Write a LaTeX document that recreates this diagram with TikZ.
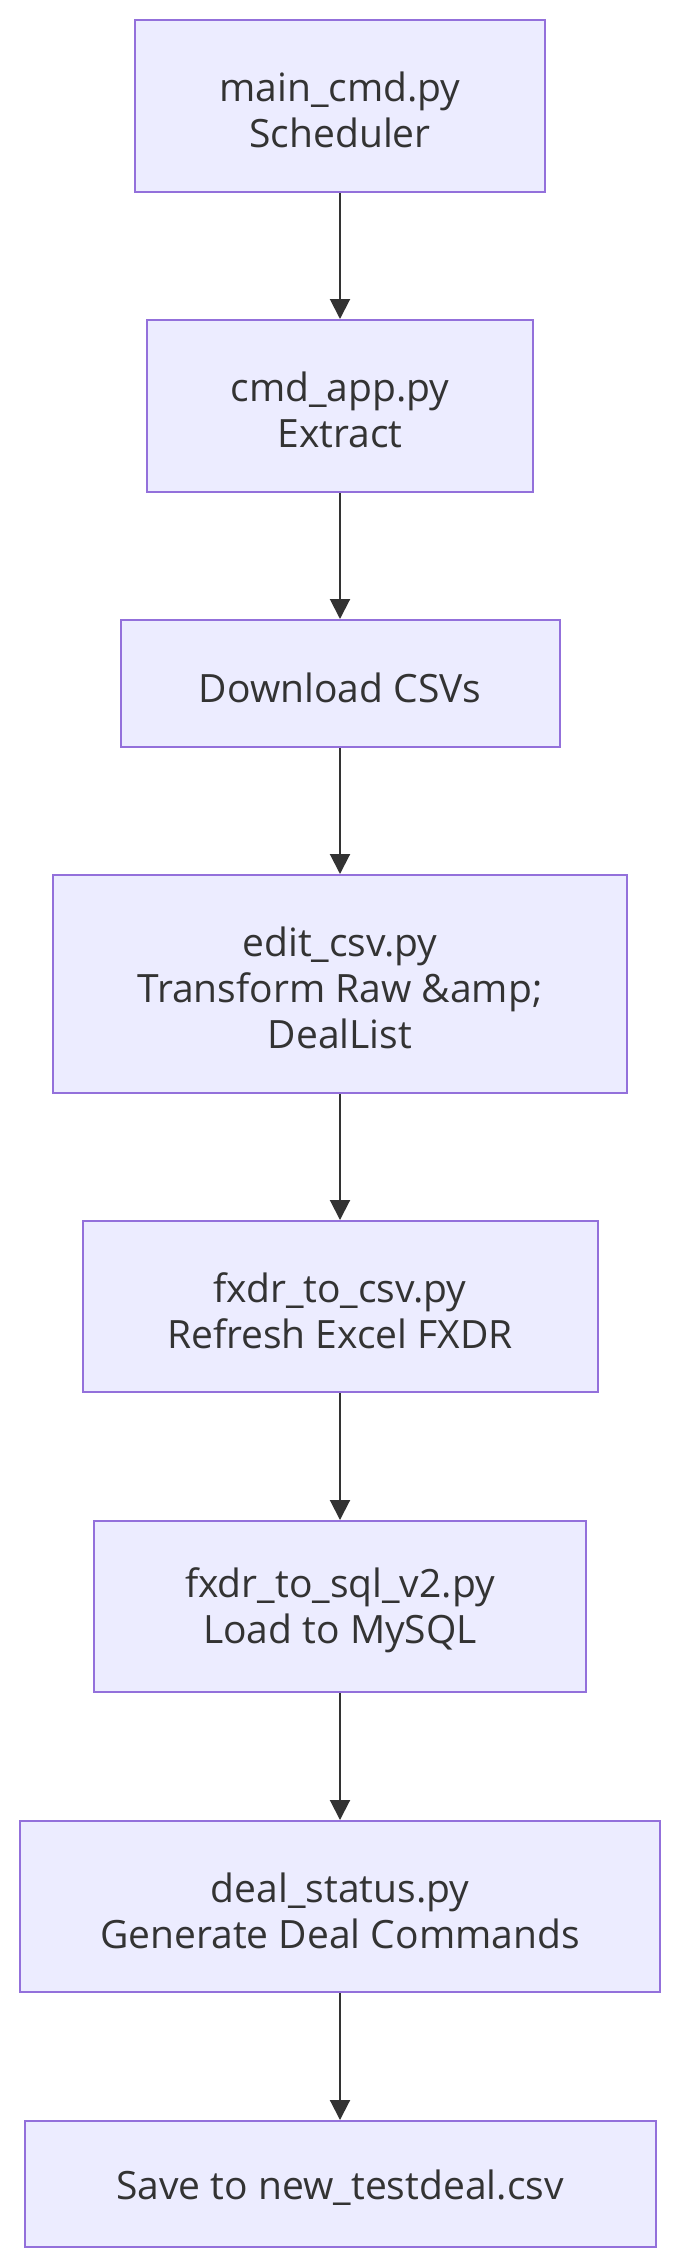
\documentclass[tikz,border=0pt]{standalone}
\usepackage{fontspec}
\setmainfont{Open Sans}
\usetikzlibrary{arrows.meta}
\definecolor{nodefill}{HTML}{ECECFF}
\definecolor{nodeline}{HTML}{9370DB}
\definecolor{ink}{HTML}{333333}
\tikzset{
  flowbox/.style={draw=nodeline, fill=nodefill, line width=2pt, inner sep=0pt},
  flowtext/.style={inner sep=0pt, text=ink, align=center, font=\fontsize{39}{46}\selectfont},
  flowarrow/.style={draw=ink, line width=2pt, -{Triangle[length=20pt,width=20pt]}}
}
\begin{document}
\begin{tikzpicture}[x=1pt,y=-1pt]
\useasboundingbox[fill=white] (0,0) rectangle (680,2268);
\node[flowbox, minimum width=410pt, minimum height=172pt] (n1) at (340,106) {};
\node[flowbox, minimum width=386pt, minimum height=172pt] (n2) at (340,406) {};
\node[flowbox, minimum width=439pt, minimum height=127pt] (n3) at (340,683.5) {};
\node[flowbox, minimum width=574pt, minimum height=218pt] (n4) at (340,984) {};
\node[flowbox, minimum width=515pt, minimum height=171pt] (n5) at (340,1306.5) {};
\node[flowbox, minimum width=492pt, minimum height=171pt] (n6) at (340,1606.5) {};
\node[flowbox, minimum width=640pt, minimum height=171pt] (n7) at (340,1906.5) {};
\node[flowbox, minimum width=631pt, minimum height=126pt] (n8) at (340,2184) {};
\node[flowtext] (t1) at ([yshift=-4pt]n1.center) {main\_cmd.py\\Scheduler};
\node[flowtext] (t2) at ([yshift=-4pt]n2.center) {cmd\_app.py\\Extract};
\node[flowtext] (t3) at ([yshift=-4pt]n3.center) {Download CSVs};
\node[flowtext] (t4) at ([yshift=-4pt]n4.center) {edit\_csv.py\\Transform Raw \&amp;\\DealList};
\node[flowtext] (t5) at ([yshift=-4pt]n5.center) {fxdr\_to\_csv.py\\Refresh Excel FXDR};
\node[flowtext] (t6) at ([yshift=-4pt]n6.center) {fxdr\_to\_sql\_v2.py\\Load to MySQL};
\node[flowtext] (t7) at ([yshift=-4pt]n7.center) {deal\_status.py\\Generate Deal Commands};
\node[flowtext] (t8) at ([yshift=-4pt]n8.center) {Save to new\_testdeal.csv};
\draw[flowarrow] (n1) -- (n2);
\draw[flowarrow] (n2) -- (n3);
\draw[flowarrow] (n3) -- (n4);
\draw[flowarrow] (n4) -- (n5);
\draw[flowarrow] (n5) -- (n6);
\draw[flowarrow] (n6) -- (n7);
\draw[flowarrow] (n7) -- (n8);
\end{tikzpicture}
\end{document}
